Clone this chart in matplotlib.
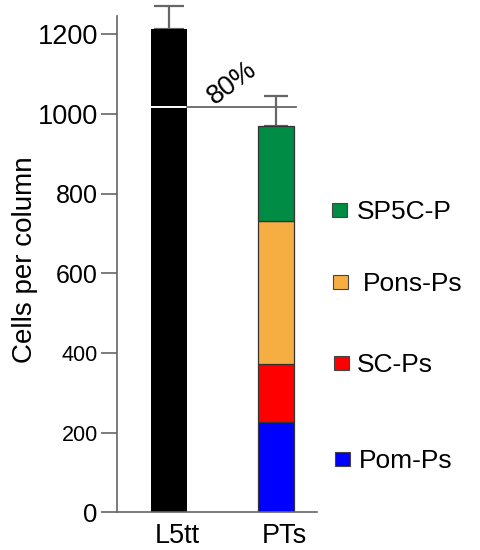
import matplotlib
matplotlib.use("Agg")
import matplotlib.pyplot as plt
from matplotlib.patches import Rectangle
from matplotlib.transforms import ScaledTranslation

plt.rcParams['font.family'] = ['Liberation Sans', 'DejaVu Sans']

# data
groups = ["L5tt", "PTs"]
l5tt_total = 1213
l5tt_err = 58
pt_names = ["Pom-Ps", "SC-Ps", "Pons-Ps", "SP5C-P"]
pt_values = [226, 147, 358, 239]
pt_err = 75
ref_line = 1018          # "80%" reference level
ref_label = "80%"
yticks = [0, 200, 400, 600, 800, 1000, 1200]

pt_colors = ["#0000ff", "#ff0000", "#f6ae42", "#008c44"]
tick_sizes = [18.5, 15.5, 15.5, 18, 18, 19.5, 19.5]

W, H, DPI = 481, 550, 100
fig = plt.figure(figsize=(W / DPI, H / DPI), dpi=DPI)
ax = fig.add_axes([117.3 / W, 1 - 512.3 / H, (317 - 117.3) / W, (512.3 - 15.8) / H])

xpos = [0, 1]
bw = 0.332
gray = "#666666"


def upper_err(x, top, err, cap):
    eb = ax.errorbar(x, top, yerr=[[0], [err]], fmt="none", ecolor=gray,
                     elinewidth=1.6, capsize=cap, capthick=1.6, zorder=1)
    for art in eb.lines[1] + eb.lines[2]:
        art.set_clip_on(False)


# black total bar
ax.bar(xpos[0], l5tt_total, width=bw, color="black", zorder=2)
upper_err(xpos[0], l5tt_total, l5tt_err, 10.8)

# stacked bar
bottom = 0
for v, c in zip(pt_values, pt_colors):
    ax.bar(xpos[1], v, width=bw, bottom=bottom, color=c, edgecolor="#333333",
           linewidth=0.9, zorder=2)
    bottom += v
upper_err(xpos[1], bottom, pt_err, 8.3)

# reference line: white across the black bar, gray afterwards
ax.plot([xpos[0] - bw / 2, xpos[0] + bw / 2], [ref_line, ref_line], color="white", lw=1.4, zorder=3)
ax.plot([xpos[0] + bw / 2, 1.187], [ref_line, ref_line], color=gray, lw=1.3, zorder=3)
ax.text(0.588, 1078, ref_label, rotation=37, ha="center", va="center",
        rotation_mode="anchor", fontsize=19.5)

ax.set_xlim(-0.486, 1.384)
ax.set_ylim(0, 1246)

for s in ["top", "right"]:
    ax.spines[s].set_visible(False)
for s in ["left", "bottom"]:
    ax.spines[s].set_color(gray)
    ax.spines[s].set_linewidth(1.2)

ax.set_yticks(yticks)
ax.set_yticklabels([str(t) for t in yticks])
ax.tick_params(axis="y", length=11.5, width=1.2, color=gray, pad=2.5)
for lab, fs in zip(ax.get_yticklabels(), tick_sizes):
    lab.set_fontsize(fs)

ax.set_xticks(xpos)
ax.set_xticklabels(groups, fontsize=19.5)
ax.tick_params(axis="x", length=0, pad=7.5)
shift = ScaledTranslation(8 / DPI, 0, fig.dpi_scale_trans)
for lab in ax.get_xticklabels():
    lab.set_transform(lab.get_transform() + shift)

fig.text(25 / W, 1 - 260 / H, "Cells per column", rotation=90,
         ha="center", va="center", fontsize=20)

# legend drawn by hand (uneven spacing as in the figure)
leg_y = [459, 363, 282, 210]
leg_sq_x = [335, 334, 333, 332]
leg_txt_x = [359, 357, 363, 357]
leg_fs = 19
for name, c, y, sx, tx in zip(pt_names, pt_colors, leg_y, leg_sq_x, leg_txt_x):
    fig.patches.append(Rectangle(((sx) / W, 1 - (y + 7) / H), 15 / W, 14 / H,
                                 transform=fig.transFigure, facecolor=c,
                                 edgecolor="#444444", linewidth=0.8))
    base = y + 0.358 * leg_fs * DPI / 72
    fig.text(tx / W, 1 - base / H, name, ha="left", va="baseline", fontsize=leg_fs)

fig.savefig("out.png", dpi=DPI)
